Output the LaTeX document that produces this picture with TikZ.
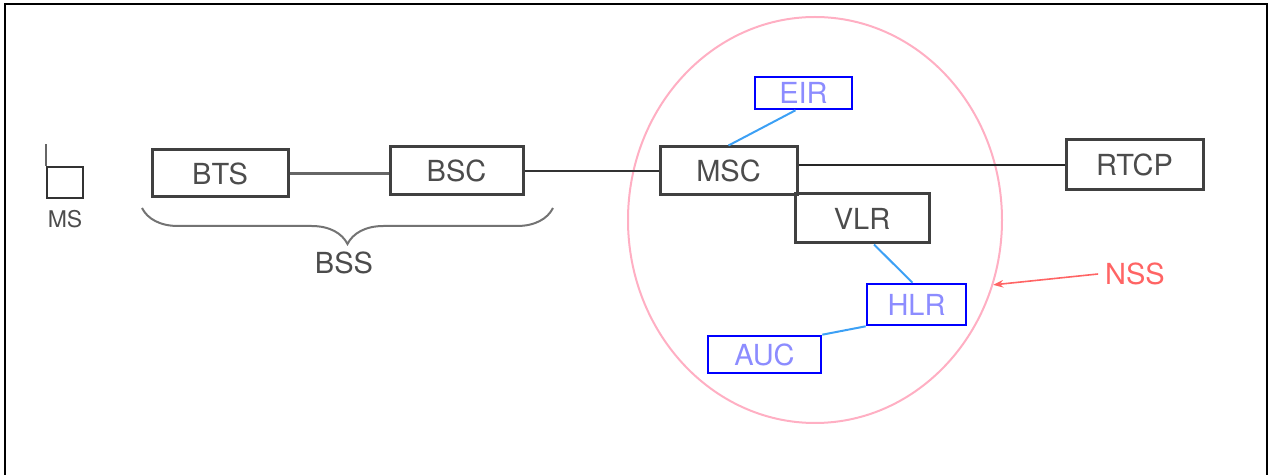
\documentclass[tikz,border=0pt]{standalone}
\usepackage{fontspec}
\setmainfont{TeX Gyre Heros}
\usetikzlibrary{positioning, shapes.geometric, decorations.pathreplacing, arrows.meta}
\definecolor{linkblue}{RGB}{60,160,245}
\definecolor{nsspink}{RGB}{255,175,195}
\definecolor{nssred}{RGB}{255,100,100}
\definecolor{entryblue}{RGB}{140,140,255}

\begin{document}
\begin{tikzpicture}[x=0.5pt, y=-0.5pt,
		unit/.style={draw=black!75, line width=1.5pt, text=black!70, font=\fontsize{14.5}{17}\selectfont, inner sep=0pt},
		db/.style={draw=blue, line width=1.3pt, text=entryblue, font=\fontsize{14.5}{17}\selectfont, inner sep=0pt},
		link/.style={linkblue, line width=1pt}]
		\useasboundingbox (0,0) rectangle (1271,475);
		\draw[line width=1.2pt] (5,475) -- (5,4) -- (1267,4) -- (1267,475);
		% network subsystem
		\node[draw=nsspink, line width=1pt, ellipse, minimum width=187pt, minimum height=203pt, inner sep=0pt] (nss) at (815,220) {};
		% mobile station
		\node[draw=black!80, line width=1pt, minimum width=18pt, minimum height=15.5pt, inner sep=0pt] (ms) at (65,182.5) {};
		\draw[black!60, line width=1pt] (ms.north west) -- ++(0,-22);
		\node[font=\fontsize{11.5}{13}\selectfont, text=black!70, below=2pt of ms] (mslabel) {MS};
		% units
		\node[unit, minimum width=68pt, minimum height=23.5pt] (BTS) at (220,173.5) {BTS};
		\node[unit, minimum width=66.5pt, minimum height=24pt] (BSC) at (456.5,171) {BSC};
		\node[unit, minimum width=68.5pt, minimum height=24pt] (MSC) at (728.5,171) {MSC};
		\node[unit, minimum width=67pt, minimum height=24.5pt] (VLR) at (862,218.5) {VLR};
		\node[unit, minimum width=68.5pt, minimum height=25pt] (RTCP) at (1134.5,165) {RTCP};
		\node[db, minimum width=48.5pt, minimum height=16pt] (EIR) at (803.5,93) {EIR};
		\node[db, minimum width=49.5pt, minimum height=20.5pt] (HLR) at (916.5,304.5) {HLR};
		\node[db, minimum width=56.5pt, minimum height=18.5pt] (AUC) at (764.5,354.5) {AUC};
		% connections
		\draw[black!60, line width=1.5pt] (BTS.east) -- (BTS.east -| BSC.west);
		\draw[black!80, line width=1pt] (BSC.east) -- (MSC.west);
		\draw[black!85, line width=1.2pt] (MSC.east |- RTCP.west) -- (RTCP.west);
		\draw[link] ([xshift=-4pt]EIR.south) -- (MSC.north);
		\draw[link] ([xshift=6pt]VLR.south) -- ([xshift=-2pt]HLR.north);
		\draw[link] (HLR.south west) -- (AUC.north east);
		% subsystem labels
		\draw[decorate, decoration={brace, mirror, amplitude=18pt}, black!55, line width=1pt] (142,208) -- (553,208);
		\node[font=\fontsize{14.5}{17}\selectfont, text=black!70] (bsslabel) at (344,263) {BSS};
		\node[font=\fontsize{14.5}{17}\selectfont, text=nssred] (nsslabel) at (1135,274) {NSS};
		\draw[nssred, line width=0.8pt, -{Stealth[length=5pt]}] (nsslabel.west) -- (nss.-20);
	\end{tikzpicture}
\end{document}
